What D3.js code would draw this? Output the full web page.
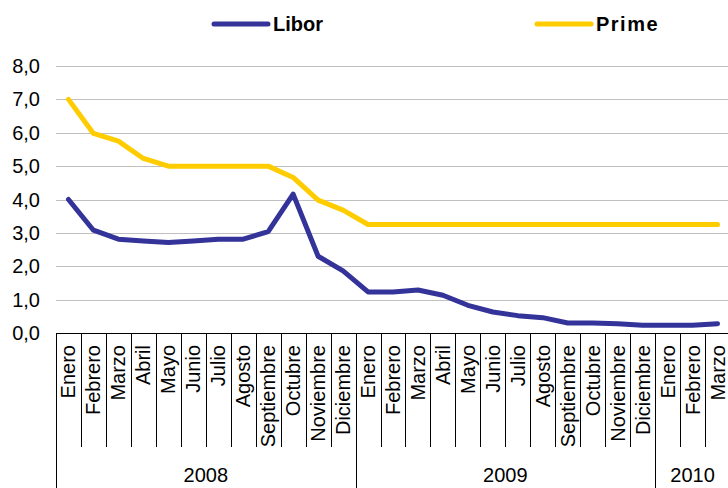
<!DOCTYPE html>
<html>
<head>
<meta charset="utf-8">
<script src="https://cdn.jsdelivr.net/npm/d3@7"></script>
<style>
  body { margin: 0; background: #fff; }
  svg { display: block; font-family: "Liberation Sans", Arial, sans-serif; }
</style>
</head>
<body>
<svg id="chart" width="728" height="488"></svg>
<script>
// months shown on the x axis (Jan 2008 - Mar 2010)
const months = ["Enero", "Febrero", "Marzo", "Abril", "Mayo", "Junio", "Julio", "Agosto",
  "Septiembre", "Octubre", "Noviembre", "Diciembre",
  "Enero", "Febrero", "Marzo", "Abril", "Mayo", "Junio", "Julio", "Agosto",
  "Septiembre", "Octubre", "Noviembre", "Diciembre",
  "Enero", "Febrero", "Marzo"];
const years = [
  { label: "2008", start: 0, end: 12 },
  { label: "2009", start: 12, end: 24 },
  { label: "2010", start: 24, end: 27 }
];
const libor = [4.0, 3.08, 2.81, 2.76, 2.71, 2.76, 2.81, 2.81, 3.04, 4.16, 2.30, 1.86,
  1.23, 1.23, 1.29, 1.13, 0.83, 0.63, 0.52, 0.46, 0.30, 0.30, 0.28, 0.23,
  0.23, 0.23, 0.28];
const prime = [7.0, 5.98, 5.75, 5.23, 5.0, 5.0, 5.0, 5.0, 5.0, 4.66, 3.98, 3.68,
  3.25, 3.25, 3.25, 3.25, 3.25, 3.25, 3.25, 3.25, 3.25, 3.25, 3.25, 3.25,
  3.25, 3.25, 3.25];
const yTicks = [0, 1, 2, 3, 4, 5, 6, 7, 8];

const svg = d3.select("#chart");
const plotLeft = 56, plotRight = 730, plotTop = 66, plotBottom = 333;

const x = d3.scaleBand().domain(d3.range(months.length)).range([plotLeft, plotRight]);
const y = d3.scaleLinear().domain([0, 8]).range([plotBottom, plotTop]);

// gridlines
svg.append("g")
  .selectAll("line")
  .data(yTicks.slice(1))
  .enter().append("line")
  .attr("x1", plotLeft)
  .attr("x2", 728)
  .attr("y1", d => Math.round(y(d)) + 0.5)
  .attr("y2", d => Math.round(y(d)) + 0.5)
  .attr("stroke", "#c0c0c0")
  .attr("stroke-width", 1);

// y labels
svg.append("g")
  .selectAll("text")
  .data(yTicks)
  .enter().append("text")
  .attr("x", 40)
  .attr("y", d => y(d))
  .attr("dy", "0.35em")
  .attr("text-anchor", "end")
  .attr("font-size", 20)
  .attr("fill", "#000")
  .text(d => d3.format(".1f")(d).replace(".", ","));

// x axis line
svg.append("line")
  .attr("x1", plotLeft).attr("x2", 728)
  .attr("y1", Math.round(y(0)) + 0.5).attr("y2", Math.round(y(0)) + 0.5)
  .attr("stroke", "#000").attr("stroke-width", 1);

// separators between months and years
const yearBounds = new Set(years.flatMap(d => [d.start, d.end]));
svg.append("g")
  .selectAll("line")
  .data(d3.range(months.length + 1))
  .enter().append("line")
  .attr("x1", i => Math.round(plotLeft + i * x.step()) + 0.5)
  .attr("x2", i => Math.round(plotLeft + i * x.step()) + 0.5)
  .attr("y1", y(0))
  .attr("y2", i => yearBounds.has(i) ? 488 : 447)
  .attr("stroke", "#000")
  .attr("stroke-width", 1);

// month labels
svg.append("g")
  .selectAll("text")
  .data(months)
  .enter().append("text")
  .attr("transform", (d, i) => `translate(${x(i) + x.bandwidth() / 2 + 7},345) rotate(-90)`)
  .attr("text-anchor", "end")
  .attr("font-size", 20)
  .attr("fill", "#000")
  .text(d => d);

// year labels
svg.append("g")
  .selectAll("text")
  .data(years)
  .enter().append("text")
  .attr("x", d => plotLeft + (d.start + d.end) / 2 * x.step())
  .attr("y", 482)
  .attr("text-anchor", "middle")
  .attr("font-size", 20)
  .attr("fill", "#000")
  .text(d => d.label);

// lines
const line = d3.line()
  .x((d, i) => x(i) + x.bandwidth() / 2)
  .y(d => y(d));

svg.append("path")
  .datum(prime)
  .attr("d", line)
  .attr("fill", "none")
  .attr("stroke", "#ffcc00")
  .attr("stroke-width", 5)
  .attr("stroke-linejoin", "round")
  .attr("stroke-linecap", "round");

svg.append("path")
  .datum(libor)
  .attr("d", line)
  .attr("fill", "none")
  .attr("stroke", "#333399")
  .attr("stroke-width", 5)
  .attr("stroke-linejoin", "round")
  .attr("stroke-linecap", "round");

// legend
const legend = [
  { name: "Libor", color: "#333399", x: 214 },
  { name: "Prime", color: "#ffcc00", x: 537 }
];
const lg = svg.append("g")
  .selectAll("g")
  .data(legend)
  .enter().append("g");
lg.append("line")
  .attr("x1", d => d.x).attr("x2", d => d.x + 54)
  .attr("y1", 24).attr("y2", 24)
  .attr("stroke", d => d.color)
  .attr("stroke-width", 5)
  .attr("stroke-linecap", "round");
lg.append("text")
  .attr("x", d => d.x + 59)
  .attr("y", 24)
  .attr("dy", "0.35em")
  .attr("font-size", 20)
  .attr("font-weight", "bold")
  .attr("letter-spacing", d => d.name === "Prime" ? 1.5 : 0)
  .attr("fill", "#000")
  .text(d => d.name);
</script>
</body>
</html>
